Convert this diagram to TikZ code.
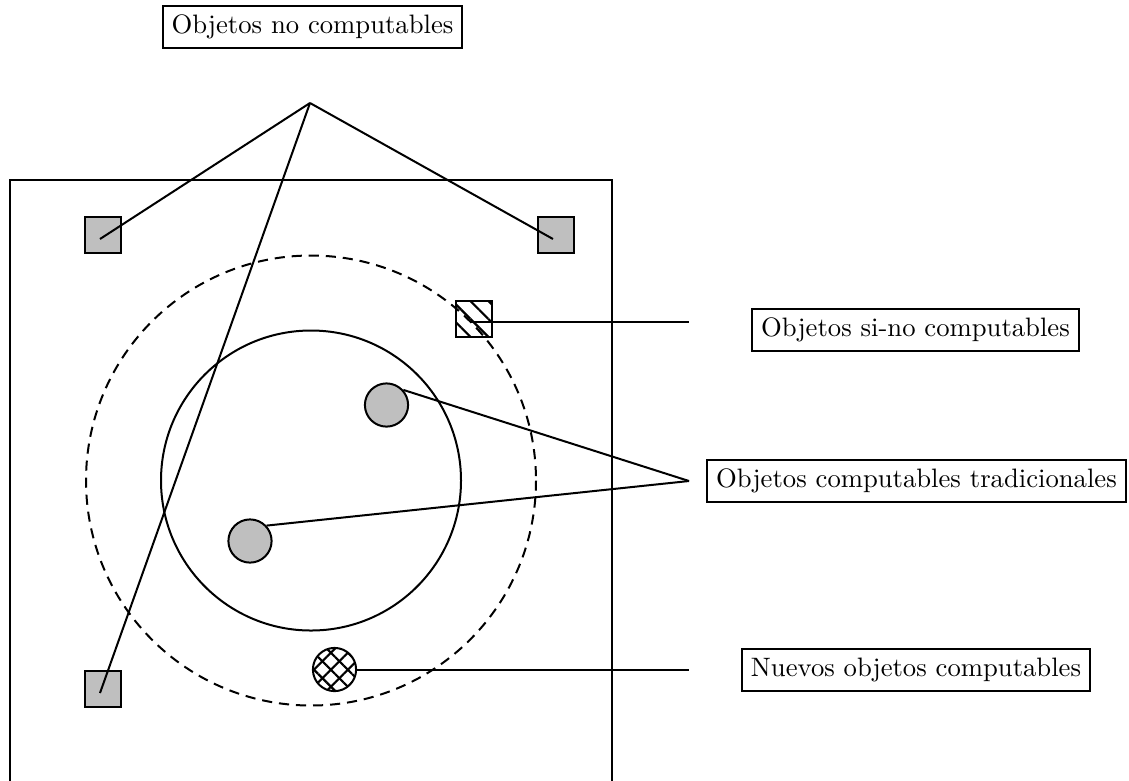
\documentclass[tikz,border=0pt]{standalone}
\usetikzlibrary{patterns.meta,calc}
\begin{document}
\begin{tikzpicture}[x=0.375pt,y=-0.375pt,line width=0.75pt,
  lbl/.style={draw,line width=0.75pt,inner sep=3.33pt},
  sq/.style={draw,fill=lightgray,minimum size=13.5pt,inner sep=0pt},
  gc/.style={circle,draw,fill=lightgray,minimum size=16.2pt,inner sep=0pt},
  hsq/.style={draw,minimum size=13.5pt,inner sep=0pt,
    pattern={Lines[angle=-45,distance=4.75pt,line width=0.8pt]}},
  xc/.style={circle,draw,minimum size=16.2pt,inner sep=0pt}]
\useasboundingbox (0,0) rectangle (1129,780);
\clip (0,0) rectangle (1129,780);
% outer region
\draw (10,180) rectangle (612,800);
% circles
\draw[dash pattern=on 3.8pt off 2.6pt] (311,480.5) circle [radius=225];
\draw (311,480.5) circle [radius=150];
% labels
\node[lbl] (nc) at (312.5,27) {Objetos no computables};
\node[lbl] (snc) at (915.5,330) {Objetos si-no computables};
\node[lbl] (ct) at (916.5,481) {Objetos computables tradicionales};
\node[lbl] (nuc) at (916,670) {Nuevos objetos computables};
% connector junctions
\coordinate (apex) at (310,103);
\coordinate (jct) at (689,481);
\coordinate (jsn) at (689,322);
\coordinate (jnu) at (689,669.5);
% objects
\node[sq] (s1) at (103,235) {};
\node[sq] (s2) at (556,235) {};
\node[sq] (s3) at (103,689) {};
\coordinate (e1) at ($(s1.center)+(-3,4)$);
\coordinate (e2) at ($(s2.center)+(-3,4)$);
\coordinate (e3) at ($(s3.center)+(-3,4)$);
\node[hsq] (hs) at (473.5,319) {};
\coordinate (eh) at ($(hs.center)+(-3,3)$);
\node[gc] (c1) at (386.5,405) {};
\node[gc] (c2) at (250,541) {};
\node[xc,pattern={Lines[angle=45,distance=4.5pt,line width=0.8pt]}] (xcirc) at (334.5,669.5) {};
\path[pattern={Lines[angle=-45,distance=4.5pt,line width=0.8pt]}] (xcirc.center) circle [radius=21.5];
% connectors
\draw (apex) -- (e1);
\draw (apex) -- (e2);
\draw (apex) -- (e3);
\draw (eh) -- (jsn);
\draw (c1.42) -- (jct);
\draw (c2.43) -- (jct);
\draw (xcirc.east) -- (jnu);
\end{tikzpicture}
\end{document}
